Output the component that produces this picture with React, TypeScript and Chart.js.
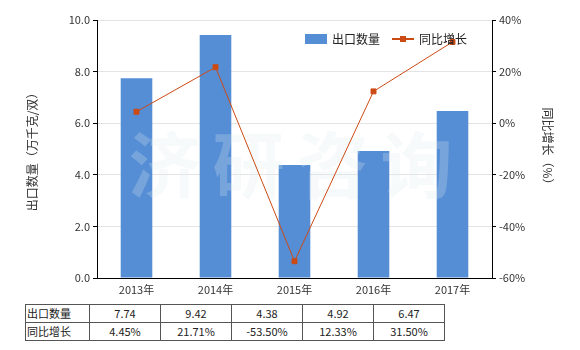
import React, { useEffect, useRef } from "react";
import { Chart, registerables } from "chart.js";

Chart.register(...registerables);

const categories = ["2013年", "2014年", "2015年", "2016年", "2017年"];
const exportQty = [7.74, 9.42, 4.38, 4.92, 6.47];
const yoyGrowth = [4.45, 21.71, -53.5, 12.33, 31.5];
const qtyLabels = ["7.74", "9.42", "4.38", "4.92", "6.47"];
const growthLabels = ["4.45%", "21.71%", "-53.50%", "12.33%", "31.50%"];
const seriesNames = ["出口数量", "同比增长"];

const FONT = "'Noto Sans CJK SC', 'DejaVu Sans', sans-serif";
const BAR_COLOR = "#558ed5";
const LINE_COLOR = "#cc4a14";

const overlayPlugin = {
  id: "overlay",
  afterDatasetDraw(chart: any, args: any) {
    if (args.index !== 0) return;
    const ctx = chart.ctx;
    const area = chart.chartArea;
    ctx.save();
    ctx.font = `bold 72px ${FONT}`;
    ctx.fillStyle = "rgba(225,235,238,0.25)";
    ctx.textAlign = "center";
    ctx.textBaseline = "middle";
    const text = "济研咨询";
    const cx = (area.left + area.right) / 2 - 4;
    const cy = 165;
    const step = 84;
    for (let i = 0; i < text.length; i++) {
      ctx.fillText(text[i], cx + (i - 1.5) * step, cy);
    }
    ctx.restore();
  },
  afterDraw(chart: any) {
    const ctx = chart.ctx;
    ctx.save();
    ctx.font = `12px ${FONT}`;
    ctx.textBaseline = "middle";
    ctx.textAlign = "left";
    const y = 39;
    ctx.fillStyle = BAR_COLOR;
    ctx.fillRect(305, y - 5, 22, 10);
    ctx.fillStyle = "#222";
    ctx.fillText(seriesNames[0], 332, y);
    ctx.strokeStyle = LINE_COLOR;
    ctx.lineWidth = 2;
    ctx.beginPath();
    ctx.moveTo(392, y);
    ctx.lineTo(414, y);
    ctx.stroke();
    ctx.fillStyle = LINE_COLOR;
    ctx.fillRect(400, y - 3, 6, 6);
    ctx.fillStyle = "#222";
    ctx.fillText(seriesNames[1], 419, y);
    ctx.restore();
  },
};

function App() {
  const ref = useRef<HTMLCanvasElement>(null);
  useEffect(() => {
    const canvas = ref.current!;
    const chart = new Chart(canvas, {
      type: "bar",
      data: {
        labels: categories,
        datasets: [
          {
            type: "bar",
            label: seriesNames[0],
            data: exportQty,
            backgroundColor: BAR_COLOR,
            yAxisID: "y",
            barPercentage: 0.4,
            categoryPercentage: 1,
            order: 1,
          },
          {
            type: "line",
            label: seriesNames[1],
            data: yoyGrowth,
            borderColor: LINE_COLOR,
            backgroundColor: LINE_COLOR,
            borderWidth: 1,
            pointStyle: "rect",
            pointRadius: 3.5,
            pointHoverRadius: 3.5,
            yAxisID: "y1",
            order: 0,
          } as any,
        ],
      },
      options: {
        responsive: false,
        animation: false,
        events: [],
        layout: { padding: { top: 20, left: 0, right: 0, bottom: 0 } },
        plugins: {
          legend: { display: false },
          tooltip: { enabled: false },
        },
        scales: {
          x: {
            grid: { display: false, drawTicks: false },
            border: { color: "#000", width: 1 },
            ticks: { color: "#333", font: { family: FONT, size: 11 }, padding: 5 },
            afterFit(s: any) {
              s.height = 22;
            },
          },
          y: {
            position: "left",
            min: 0,
            max: 10,
            ticks: {
              stepSize: 2,
              color: "#333",
              font: { family: FONT, size: 11 },
              callback: (v: any) => Number(v).toFixed(1),
              padding: 3,
            },
            grid: { color: "#e4e4e4", tickColor: "#000", tickLength: 4 },
            border: { color: "#000", width: 1 },
            title: {
              display: true,
              text: "出口数量（万千克/双）",
              color: "#333",
              font: { family: FONT, size: 12 },
              padding: { top: 25, bottom: 0 },
            },
            afterFit(s: any) {
              s.width = 97;
            },
          },
          y1: {
            position: "right",
            min: -60,
            max: 40,
            ticks: {
              stepSize: 20,
              color: "#333",
              font: { family: FONT, size: 11 },
              callback: (v: any) => `${v}%`,
              padding: 3,
            },
            grid: { drawOnChartArea: false, tickColor: "#000", tickLength: 4 },
            border: { color: "#000", width: 1 },
            title: {
              display: true,
              text: "同比增长（%）",
              color: "#333",
              font: { family: FONT, size: 12 },
              padding: { top: 25, bottom: 0 },
            },
            afterFit(s: any) {
              s.width = 88;
            },
          },
        },
      },
      plugins: [overlayPlugin],
    });
    return () => chart.destroy();
  }, []);

  const cell: React.CSSProperties = {
    border: "1px solid #555",
    padding: 0,
    height: 17,
    fontSize: 11,
    fontFamily: FONT,
    color: "#222",
    textAlign: "center",
    width: 70,
    lineHeight: "17px",
  };
  const head: React.CSSProperties = { ...cell, textAlign: "left", width: 62, paddingLeft: 1 };

  return (
    <div style={{ position: "absolute", left: 0, top: 0, width: 580, height: 350, background: "#fff" }}>
      <canvas ref={ref} width={580} height={300} style={{ display: "block" }} />
      <table
        style={{
          position: "absolute",
          left: 25,
          top: 304,
          borderCollapse: "collapse",
          tableLayout: "fixed",
        }}
      >
        <tbody>
          <tr>
            <td style={head}>{seriesNames[0]}</td>
            {qtyLabels.map((t, i) => (
              <td key={i} style={cell}>{t}</td>
            ))}
          </tr>
          <tr>
            <td style={head}>{seriesNames[1]}</td>
            {growthLabels.map((t, i) => (
              <td key={i} style={cell}>{t}</td>
            ))}
          </tr>
        </tbody>
      </table>
    </div>
  );
}

export default App;
